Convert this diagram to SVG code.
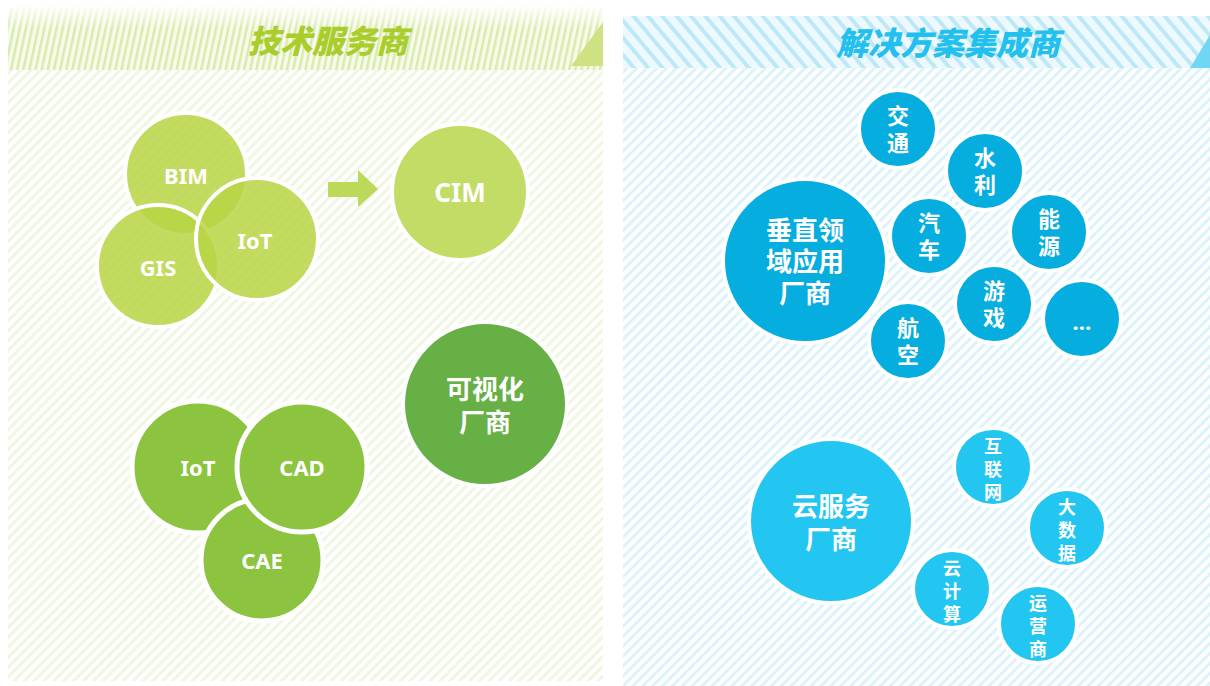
<svg xmlns="http://www.w3.org/2000/svg" width="1210" height="686" viewBox="0 0 1210 686">
<defs>
<pattern id="gBody" width="7" height="7" patternUnits="userSpaceOnUse" patternTransform="rotate(45)">
<rect width="7" height="7" fill="#ffffff"/><rect width="3" height="7" fill="#eff6e2"/>
</pattern>
<pattern id="gHead" width="6" height="6" patternUnits="userSpaceOnUse" patternTransform="rotate(12)">
<rect width="6" height="6" fill="#f7fbec"/><rect width="2.5" height="6" fill="#d9eaab"/>
</pattern>
<pattern id="bBody" width="7" height="7" patternUnits="userSpaceOnUse" patternTransform="rotate(45)">
<rect width="7" height="7" fill="#ffffff"/><rect width="3" height="7" fill="#dcf3fb"/>
</pattern>
<pattern id="bHead" width="11" height="11" patternUnits="userSpaceOnUse" patternTransform="rotate(-40)">
<rect width="11" height="11" fill="#eef9fd"/><rect width="4" height="11" fill="#bfe8f7"/>
</pattern>
<linearGradient id="fade" x1="0" y1="0" x2="0" y2="1">
<stop offset="0" stop-color="#fff" stop-opacity="0.9"/><stop offset="0.35" stop-color="#fff" stop-opacity="0"/>
<stop offset="1" stop-color="#fff" stop-opacity="0"/>
</linearGradient>
<style>
.t{font-family:"Noto Sans","Noto Sans CJK SC",sans-serif;font-weight:bold;fill:#fff;text-anchor:middle}
.c{font-family:"Liberation Sans","Noto Sans CJK SC",sans-serif;font-weight:bold;fill:#fff;text-anchor:middle}
.h{font-family:"Noto Sans CJK SC",sans-serif;font-weight:900;font-style:italic;text-anchor:middle;font-size:32px}
.lg{fill:#b7d544;fill-opacity:0.85;stroke:#fff;stroke-width:4}
.mg{fill:#8cc43f;stroke:#fff;stroke-width:5}
.sb{fill:#06addf;stroke:#fff;stroke-width:4}
.cb{fill:#22c6f0;stroke:#fff;stroke-width:4}
.s1{font-size:26px}
.s2{font-size:22px}
.s3{font-size:18px}
</style>
</defs>
<rect width="1210" height="686" fill="#fff"/>
<!-- left panel -->
<rect x="8" y="70" width="595" height="611" fill="url(#gBody)"/>
<rect x="8" y="7" width="595" height="63" fill="url(#gHead)"/>
<rect x="8" y="7" width="595" height="63" fill="url(#fade)"/>
<polygon points="571,66 603,66 603,22" fill="#cfe283"/>
<text class="h" x="328" y="53" fill="#aacd2c">技术服务商</text>
<!-- right panel -->
<rect x="623" y="68" width="587" height="618" fill="url(#bBody)"/>
<rect x="623" y="16" width="587" height="52" fill="url(#bHead)"/>
<polygon points="1190,68 1210,68 1210,35" fill="#6fd6f4"/>
<text class="h" x="948" y="55" fill="#22c0ee">解决方案集成商</text>

<g id="connectors">
<polygon points="328,182 358,182 358,170 378,189 358,207 358,197 328,197" fill="#bcd95a"/>
</g>

<g id="bim"><circle class="lg" cx="186" cy="174" r="61"/><text class="t" x="186" y="184" font-size="22">BIM</text></g>
<g id="gis"><circle class="lg" cx="158" cy="266" r="61"/><text class="t" x="158" y="276" font-size="22">GIS</text></g>
<g id="iot1"><circle class="lg" cx="257" cy="239" r="61"/><text class="t" x="255" y="249" font-size="22">IoT</text></g>
<g id="cim"><circle cx="460" cy="192" r="68" fill="#c2dc66" stroke="#fff" stroke-width="4"/><text class="t" x="460" y="202" font-size="26">CIM</text></g>
<g id="vis"><circle cx="485" cy="404" r="82" fill="#66b046" stroke="#fff" stroke-width="4"/>
<text class="c s1"><tspan x="485" y="399">可视化</tspan><tspan x="485" y="432">厂商</tspan></text></g>

<g id="iot2"><circle class="mg" cx="198" cy="467" r="66"/><text class="t" x="198" y="476" font-size="22">IoT</text></g>
<g id="cae"><circle class="mg" cx="262" cy="560" r="61"/><text class="t" x="262" y="569" font-size="22">CAE</text></g>
<g id="cad"><circle class="mg" cx="302" cy="467" r="65"/><text class="t" x="302" y="476" font-size="22">CAD</text></g>

<g id="vertical"><circle cx="805" cy="261" r="82" fill="#06addf" stroke="#fff" stroke-width="4"/>
<text class="c s1"><tspan x="805" y="240">垂直领</tspan><tspan x="805" y="271">域应用</tspan><tspan x="805" y="303">厂商</tspan></text></g>
<g id="jiaotong"><circle class="sb" cx="898" cy="129" r="39"/><text class="c s2"><tspan x="898" y="124">交</tspan><tspan x="898" y="151">通</tspan></text></g>
<g id="shuili"><circle class="sb" cx="985" cy="171" r="39"/><text class="c s2"><tspan x="985" y="166">水</tspan><tspan x="985" y="193">利</tspan></text></g>
<g id="qiche"><circle class="sb" cx="929" cy="236" r="39"/><text class="c s2"><tspan x="929" y="231">汽</tspan><tspan x="929" y="258">车</tspan></text></g>
<g id="nengyuan"><circle class="sb" cx="1049" cy="232" r="39"/><text class="c s2"><tspan x="1049" y="227">能</tspan><tspan x="1049" y="254">源</tspan></text></g>
<g id="youxi"><circle class="sb" cx="994" cy="304" r="39"/><text class="c s2"><tspan x="994" y="299">游</tspan><tspan x="994" y="326">戏</tspan></text></g>
<g id="more"><circle class="sb" cx="1082" cy="319" r="39"/><text class="t s2" x="1082" y="330">…</text></g>
<g id="hangkong"><circle class="sb" cx="908" cy="341" r="39"/><text class="c s2"><tspan x="908" y="336">航</tspan><tspan x="908" y="363">空</tspan></text></g>

<g id="cloud"><circle cx="831" cy="521" r="82" fill="#22c6f0" stroke="#fff" stroke-width="4"/>
<text class="c s1"><tspan x="831" y="516">云服务</tspan><tspan x="831" y="549">厂商</tspan></text></g>
<g id="hulianwang"><circle class="cb" cx="993" cy="467" r="39"/><text class="c s3"><tspan x="993" y="453">互</tspan><tspan x="993" y="476">联</tspan><tspan x="993" y="499">网</tspan></text></g>
<g id="dashuju"><circle class="cb" cx="1067" cy="528" r="39"/><text class="c s3"><tspan x="1067" y="514">大</tspan><tspan x="1067" y="537">数</tspan><tspan x="1067" y="560">据</tspan></text></g>
<g id="yunjisuan"><circle class="cb" cx="952" cy="589" r="39"/><text class="c s3"><tspan x="952" y="575">云</tspan><tspan x="952" y="598">计</tspan><tspan x="952" y="621">算</tspan></text></g>
<g id="yunyingshang"><circle class="cb" cx="1038" cy="624" r="39"/><text class="c s3"><tspan x="1038" y="610">运</tspan><tspan x="1038" y="633">营</tspan><tspan x="1038" y="656">商</tspan></text></g>
</svg>
